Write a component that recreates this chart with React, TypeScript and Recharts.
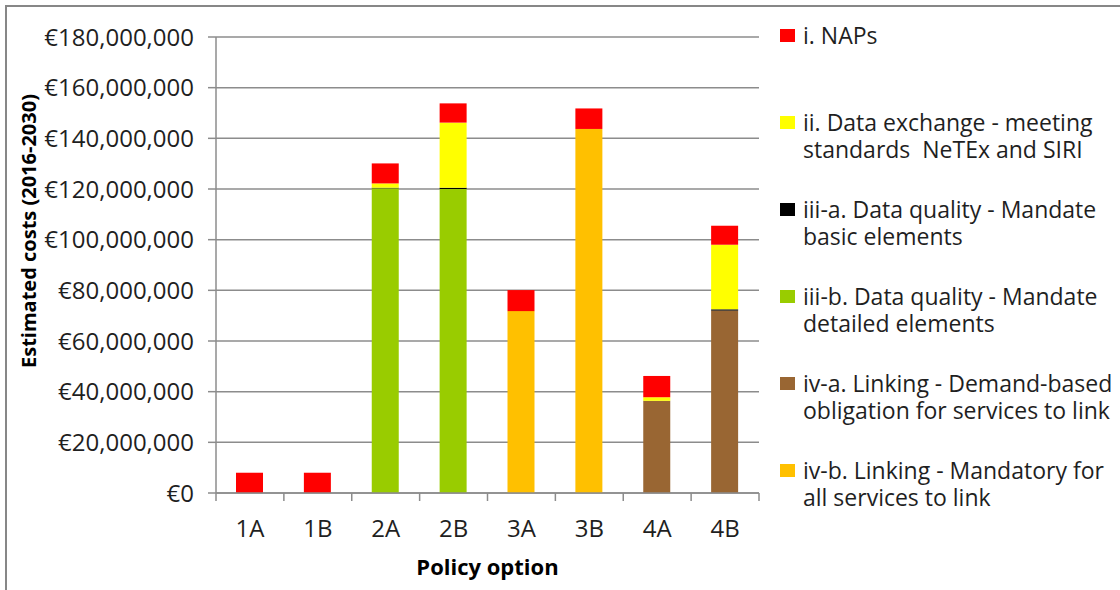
import React from 'react';
import { BarChart, Bar, XAxis, YAxis, CartesianGrid, Legend, Label } from 'recharts';

// policy options on the x axis
const categories = ['1A', '1B', '2A', '2B', '3A', '3B', '4A', '4B'];

// estimated costs 2016-2030, in € millions
const naps = [8.0, 8.0, 7.9, 7.6, 8.3, 8.1, 8.4, 7.5];
const dataExchange = [0, 0, 1.7, 25.7, 0, 0, 1.4, 25.5];
const qualityBasic = [0, 0, 0.2, 0.5, 0, 0, 0, 0.5];
const qualityDetailed = [0, 0, 120.3, 120.0, 0, 0, 0, 0];
const linkingDemand = [0, 0, 0, 0, 0, 0, 36.4, 72.0];
const linkingMandatory = [0, 0, 0, 0, 71.8, 143.7, 0, 0];

const yTicks = [0, 20, 40, 60, 80, 100, 120, 140, 160, 180];

// stack order bottom -> top (legend shows it reversed, like Excel)
const series = [
  { key: 'ivb', name: 'iv-b. Linking - Mandatory for\nall services to link', values: linkingMandatory, color: '#FFC000' },
  { key: 'iva', name: 'iv-a. Linking - Demand-based\nobligation for services to link', values: linkingDemand, color: '#996633' },
  { key: 'iiib', name: 'iii-b. Data quality - Mandate\ndetailed elements', values: qualityDetailed, color: '#99CC00' },
  { key: 'iiia', name: 'iii-a. Data quality - Mandate\nbasic elements', values: qualityBasic, color: '#000000' },
  { key: 'ii', name: 'ii. Data exchange - meeting\nstandards  NeTEx and SIRI', values: dataExchange, color: '#FFFF00' },
  { key: 'i', name: 'i. NAPs', values: naps, color: '#FF0000' },
];

const data = categories.map((c, i) => {
  const row: Record<string, any> = { option: c };
  series.forEach((s) => {
    row[s.key] = s.values[i] * 1e6;
  });
  return row;
});

const FONT = '"Open Sans", "DejaVu Sans", sans-serif';
const TEXT = '#1f1f1f';
const AXIS = '#8c8c8c';

const PLOT_LEFT = 216;
const PLOT_RIGHT = 759;
const PLOT_BOTTOM = 493;
const BAND = (PLOT_RIGHT - PLOT_LEFT) / categories.length;

const euro = (v: number) => '€' + v.toLocaleString('en-US');

const OptionTick = (props: any) => {
  const { x, payload, index } = props;
  return (
    <g>
      <line x1={x - BAND / 2} x2={x - BAND / 2} y1={PLOT_BOTTOM} y2={PLOT_BOTTOM + 8} stroke={AXIS} strokeWidth={1.5} />
      {index === categories.length - 1 && (
        <line x1={x + BAND / 2} x2={x + BAND / 2} y1={PLOT_BOTTOM} y2={PLOT_BOTTOM + 8} stroke={AXIS} strokeWidth={1.5} />
      )}
      <text x={x} y={537} textAnchor="middle" fontSize={24} fontFamily={FONT} fill={TEXT}>
        {payload.value}
      </text>
    </g>
  );
};

const LegendBox = () => {
  const items = [...series].reverse();
  return (
    <div style={{ position: 'relative', width: 345, height: 540, fontFamily: FONT, fontSize: 23, color: TEXT }}>
      {items.map((s, i) => (
        <div key={s.key} style={{ position: 'absolute', left: 0, top: 36 + 87 * i - 14, width: 345 }}>
          <span
            style={{
              position: 'absolute',
              left: 5,
              top: 7,
              width: 15,
              height: 13,
              background: s.color,
            }}
          />
          <div style={{ marginLeft: 28, lineHeight: '27px', whiteSpace: 'pre' }}>{s.name}</div>
        </div>
      ))}
    </div>
  );
};

export default function App() {
  return (
    <div style={{ position: 'absolute', left: 0, top: 0, width: 1120, height: 590, overflow: 'hidden', background: '#fff' }}>
      <div
        style={{
          position: 'absolute',
          left: 5,
          top: 5,
          width: 1200,
          height: 700,
          borderLeft: '2px solid #878787',
          borderTop: '2px solid #878787',
        }}
      />
      <div style={{ position: 'absolute', left: 0, top: 0 }}>
        <BarChart
          width={1120}
          height={590}
          data={data}
          margin={{ top: 37, right: 1120 - PLOT_RIGHT, bottom: 57, left: PLOT_LEFT - 190 }}
          barSize={27}
        >
          <CartesianGrid vertical={false} stroke={AXIS} strokeWidth={1.5} />
          <XAxis
            dataKey="option"
            height={40}
            interval={0}
            tickLine={false}
            axisLine={{ stroke: AXIS, strokeWidth: 1.5 }}
            tick={<OptionTick />}
          >
            <Label
              content={(p: any) => {
                const vb = p.viewBox;
                return (
                  <text
                    x={vb.x + vb.width / 2}
                    y={575}
                    textAnchor="middle"
                    fontSize={22}
                    fontWeight="bold"
                    fontFamily={FONT}
                    fill="#000"
                  >
                    Policy option
                  </text>
                );
              }}
            />
          </XAxis>
          <YAxis
            type="number"
            width={190}
            domain={[0, 180e6]}
            ticks={yTicks.map((t) => t * 1e6)}
            interval={0}
            tickFormatter={euro}
            tickSize={8}
            tickMargin={14}
            tick={{ fontSize: 24, fill: TEXT, fontFamily: FONT }}
            axisLine={{ stroke: AXIS, strokeWidth: 1.5 }}
            tickLine={{ stroke: AXIS, strokeWidth: 1.5 }}
          >
            <Label
              content={() => (
                <text
                  x={28}
                  y={231}
                  transform="rotate(-90 28 231)"
                  textAnchor="middle"
                  dominantBaseline="central"
                  fontSize={20}
                  fontWeight="bold"
                  fontFamily={FONT}
                  fill="#000"
                >
                  Estimated costs (2016-2030)
                </text>
              )}
            />
          </YAxis>
          <Legend
            layout="vertical"
            align="center"
            verticalAlign="middle"
            wrapperStyle={{ left: 775, top: 0, width: 345 }}
            content={<LegendBox />}
          />
          {series.map((s) => (
            <Bar key={s.key} dataKey={s.key} name={s.name} stackId="cost" fill={s.color} isAnimationActive={false} />
          ))}
        </BarChart>
      </div>
    </div>
  );
}
